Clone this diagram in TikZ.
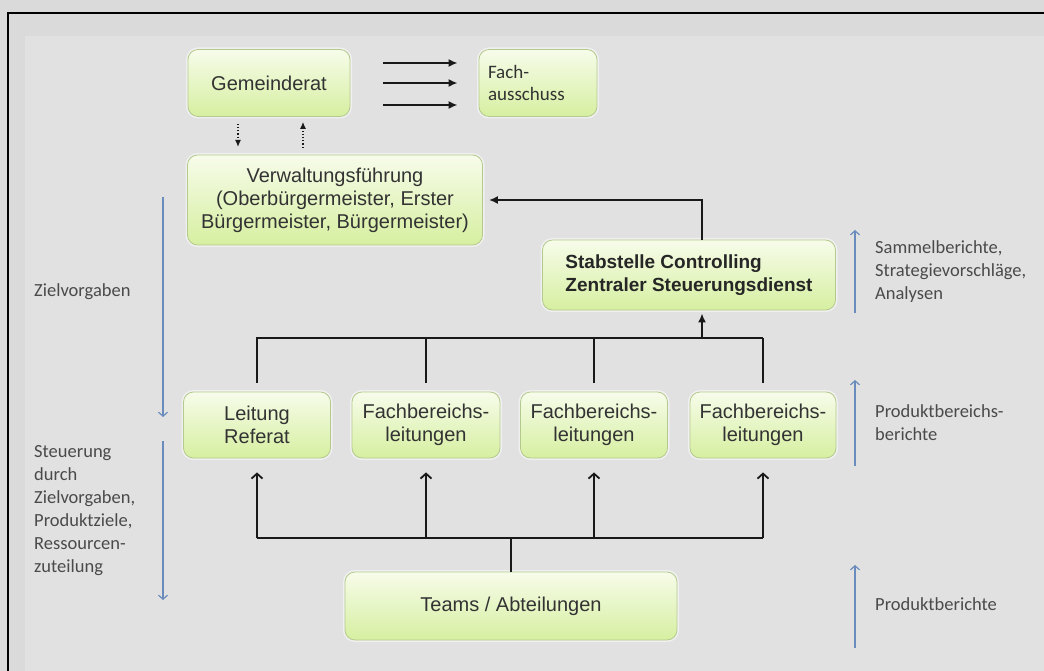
\documentclass[tikz,border=0pt]{standalone}
\usepackage{fontspec}
\setmainfont{Liberation Sans}
\newfontfamily\calib{Carlito}
\usepackage{tikz}
\usepackage{xcolor}
\usetikzlibrary{shapes,arrows,arrows.meta,positioning,calc}

\definecolor{bgouter}{HTML}{DADADA}
\definecolor{bginner}{HTML}{E1E1E1}
\definecolor{boxtop}{HTML}{F7FCEA}
\definecolor{boxbot}{HTML}{D6EFA0}
\definecolor{boxline}{HTML}{B4C98E}
\definecolor{boxtext}{HTML}{333333}
\definecolor{flowblue}{HTML}{6A8CBC}
\definecolor{sidetext}{HTML}{4A4A4A}

\tikzset{
  orgbox/.style={rectangle, rounded corners=10pt, draw=boxline, line width=0.8pt,
    top color=boxtop, bottom color=boxbot, text=boxtext, align=center,
    font=\fontsize{20}{23}\selectfont,
    preaction={draw=white, line width=4pt, opacity=0.5}},
  sidelabel/.style={anchor=north west, align=left, text=sidetext, inner sep=0pt,
    font=\calib\fontsize{18.5}{23}\selectfont},
  arr/.style={draw=black!90, line width=1.8pt, -{Latex[length=9pt,width=8pt]}},
  openarr/.style={draw=black!90, line width=1.8pt, -{Straight Barb[length=5pt,width=11pt]}},
  busline/.style={draw=black!90, line width=1.8pt},
  dotarr/.style={draw=black!90, line width=1.2pt, dotted, -{Latex[length=7pt,width=6pt]}},
  bluearr/.style={draw=flowblue, line width=1.2pt, -{Straight Barb[length=4pt,width=9pt]}}
}

\begin{document}
\begin{tikzpicture}[x=1pt,y=-1pt]
    % Background and frame
    \useasboundingbox (0,0) rectangle (1044,671);
    \fill[bgouter] (0,0) rectangle (1044,671);
    \fill[bginner] (25,36) rectangle (1044,671);
    \draw[black, line width=1.5pt] (8,671) -- (8,13) -- (1044,13);

    % Boxes
    \node[orgbox, minimum width=162pt, minimum height=67pt] (gem) at (269,83) {Gemeinderat};
    \node[orgbox, minimum width=118pt, minimum height=67pt, text width=100pt, align=left,
          font=\calib\fontsize{19}{22}\selectfont] (fach) at (538,83) {Fach-\\ausschuss};
    \node[orgbox, minimum width=295pt, minimum height=90pt] (verw) at (335,200)
        {Verwaltungsführung\\(Oberbürgermeister, Erster\\Bürgermeister, Bürgermeister)};
    \node[orgbox, minimum width=293pt, minimum height=70pt, align=left,
          font=\bfseries\fontsize{19}{23}\selectfont, text=black!85] (stab) at (689,275)
        {Stabstelle Controlling\\Zentraler Steuerungsdienst};
    \node[orgbox, minimum width=147pt, minimum height=66pt] (lr) at (257,425) {Leitung\\Referat};
    \node[orgbox, minimum width=148pt, minimum height=66pt] (fb1) at (426,425) {Fachbereichs-\\leitungen};
    \node[orgbox, minimum width=147pt, minimum height=66pt] (fb2) at (594,425) {Fachbereichs-\\leitungen};
    \node[orgbox, minimum width=146pt, minimum height=66pt] (fb3) at (763,425) {Fachbereichs-\\leitungen};
    \node[orgbox, minimum width=332pt, minimum height=68pt] (teams) at (511,606) {Teams / Abteilungen};

    % Gemeinderat -> Fachausschuss
    \foreach \dy in {-20,0,22}
        \draw[arr] ([shift={(33,\dy)}]gem.east) -- ([shift={(-21,\dy)}]fach.west);

    % Gemeinderat <-> Verwaltungsfuehrung
    \draw[dotarr] ([xshift=-31pt]gem.south) ++(0,7) -- ++(0,23);
    \draw[dotarr] ([xshift=34pt]gem.south) ++(0,31) -- ++(0,-26);

    % Stabstelle -> Verwaltungsfuehrung
    \coordinate (stabin) at ([xshift=13pt]stab.south);
    \coordinate (stabout) at ([xshift=13pt]stab.north);
    \draw[arr, shorten >=6pt] (stabout) |- (verw.east);

    % Leitungen -> Stabstelle
    \coordinate (bus1) at (0,338);
    \draw[busline, shorten <=9pt] (lr.north) -- (lr.north |- bus1) -- (fb3.north |- bus1);
    \draw[busline, shorten >=9pt] (fb3.north |- bus1) -- (fb3.north);
    \foreach \n in {fb1,fb2}
        \draw[busline, shorten >=9pt] (\n.north |- bus1) -- (\n.north);
    \draw[arr, shorten >=3pt] (stabin |- bus1) -- (stabin);

    % Teams -> Leitungen
    \coordinate (bus2) at (0,538);
    \draw[busline] (teams.north) -- (teams.north |- bus2);
    \draw[busline] (lr.south |- bus2) -- (fb3.south |- bus2);
    \foreach \n in {lr,fb1,fb2,fb3}
        \draw[openarr, shorten >=14pt] (\n.south |- bus2) -- (\n.south);

    % Side arrows and labels
    \draw[bluearr] (163,197) -- (163,417);
    \draw[bluearr] (163,441) -- (163,600);
    \node[sidelabel] (ziel) at (34,283) {Zielvorgaben};
    \node[sidelabel] (steu) at (34,445) {Steuerung\\durch\\Zielvorgaben,\\Produktziele,\\Ressourcen-\\zuteilung};

    \draw[bluearr] (855,313) -- (855,230);
    \draw[bluearr] (855,466) -- (855,380);
    \draw[bluearr] (855,648) -- (855,565);
    \node[sidelabel] (samm) at (875,240) {Sammelberichte,\\Strategievorschläge,\\Analysen};
    \node[sidelabel] (pbb) at (875,404) {Produktbereichs-\\berichte};
    \node[sidelabel] (pb) at (875,597) {Produktberichte};
\end{tikzpicture}
\end{document}
